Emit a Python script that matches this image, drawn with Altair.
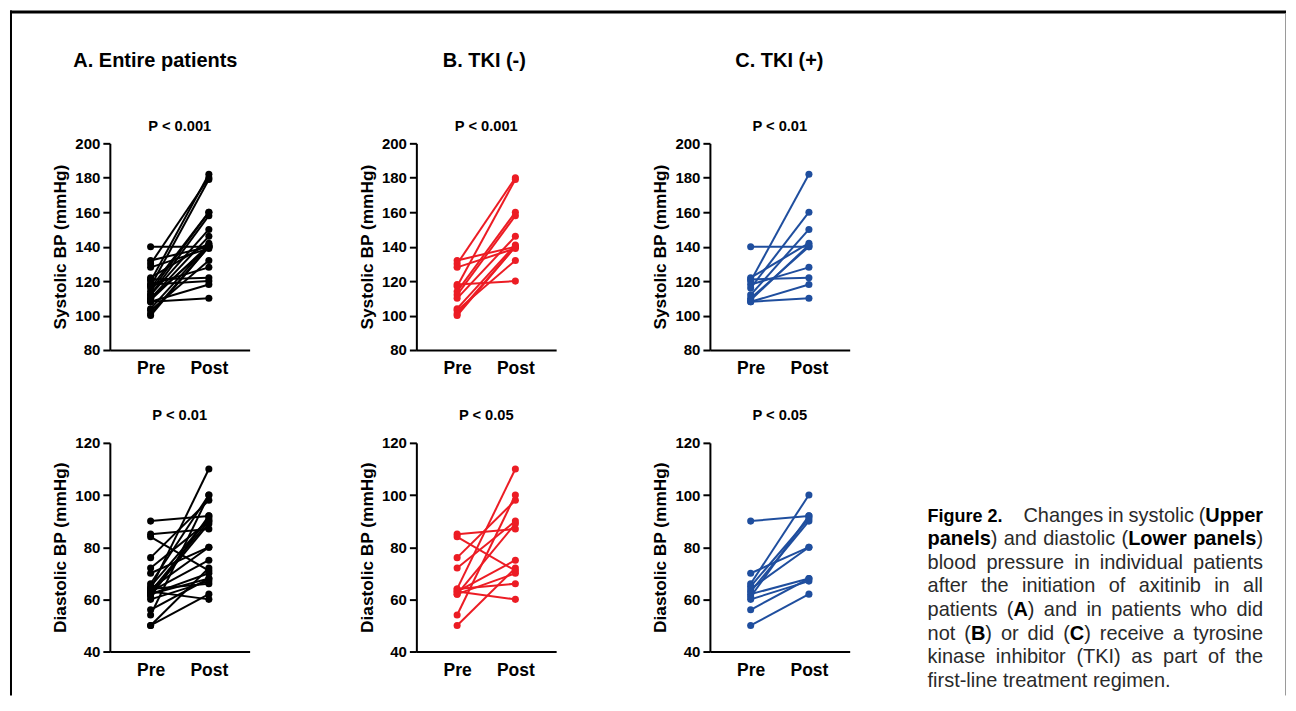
import altair as alt
import pandas as pd

# ---------------- data ----------------
phases = ["Pre", "Post"]

# B. TKI (-)
b_sys_pre = [132, 130, 128, 118, 117, 114, 112, 110, 104, 103, 101, 100]
b_sys_post = [140, 180, 139, 120, 179, 160, 158, 146, 141, 132, 140, 140]
b_dia_pre = [85, 84, 76, 72, 64, 64, 63, 63, 62, 62, 54, 50]
b_dia_post = [87, 71, 98, 90, 110, 66, 60, 75, 89, 70, 100, 72]

# C. TKI (+)
c_sys_pre = [140, 122, 121, 120, 118, 116, 112, 110, 109, 108, 108]
c_sys_post = [140, 142, 122, 182, 128, 160, 150, 140, 141, 118, 110]
c_dia_pre = [90, 70, 66, 65, 64, 63, 62, 61, 60, 56, 50]
c_dia_post = [92, 80, 100, 91, 80, 90, 68, 92, 67, 68, 62]

# A. Entire patients = B + C
a_sys_pre = b_sys_pre + c_sys_pre
a_sys_post = b_sys_post + c_sys_post
a_dia_pre = b_dia_pre + c_dia_pre
a_dia_post = b_dia_post + c_dia_post

col_titles = ["A. Entire patients", "B. TKI (-)", "C. TKI (+)"]
sys_pvals = ["P < 0.001", "P < 0.001", "P < 0.01"]
dia_pvals = ["P < 0.01", "P < 0.05", "P < 0.05"]
group_colors = ["#000000", "#EC1C24", "#1F4E9E"]
sys_ticks = [80, 100, 120, 140, 160, 180, 200]
dia_ticks = [40, 60, 80, 100, 120]
sys_title = "Systolic BP (mmHg)"
dia_title = "Diastolic BP (mmHg)"

caption_fig = "Figure 2."
caption_lines = [
    "Changes in systolic (**Upper**",
    "**panels**) and diastolic (**Lower** **panels**)",
    "blood pressure in individual patients",
    "after the initiation of axitinib in all",
    "patients (**A**) and in patients who did",
    "not (**B**) or did (**C**) receive a tyrosine",
    "kinase inhibitor (TKI) as part of the",
    "first-line treatment regimen.",
]

# ---------------- layout / style ----------------
FONT = "Liberation Sans, Arial, Helvetica, sans-serif"
PW = 140
TOP_H = 207
BOT_H = 209
TOTAL_W = 1278
BAND_H = 133
LEFT_W = 40
LEFT_H = 500
CAP_W = 434
CAP_H = 550


def long_df(pre, post):
    pid, phase, bp = [], [], []
    for i, (a, b) in enumerate(zip(pre, post)):
        pid += [i, i]
        phase += ["Pre", "Post"]
        bp += [a, b]
    return pd.DataFrame({"pid": pid, "phase": phase, "bp": bp})


def panel(pre, post, color, ptitle, ytitle, domain, ticks, h, toff):
    df = long_df(pre, post)
    base = alt.Chart(df).encode(
        x=alt.X("phase:N", sort=phases,
                scale=alt.Scale(type="point", padding=0.7),
                axis=alt.Axis(title=None, labelAngle=0, ticks=False,
                              labelPadding=10, labelFontSize=17.5)),
        y=alt.Y("bp:Q", scale=alt.Scale(domain=domain, nice=False, zero=False),
                axis=alt.Axis(values=ticks, title=ytitle, tickSize=7,
                              labelFontSize=15, labelPadding=3,
                              titleFontSize=17.3, titlePadding=5,
                              labelOverlap=False)),
        detail="pid:N",
    )
    lines = base.mark_line(color=color, strokeWidth=2)
    pts = base.mark_circle(color=color, size=50, opacity=1)
    return alt.layer(lines, pts).properties(
        width=PW, height=h,
        title=alt.TitleParams(ptitle, fontSize=14.7, fontWeight="bold", font=FONT,
                              color="black", anchor="middle", frame="group",
                              offset=toff, baseline="alphabetic"))


data_sets = [
    (a_sys_pre, a_sys_post, a_dia_pre, a_dia_post),
    (b_sys_pre, b_sys_post, b_dia_pre, b_dia_post),
    (c_sys_pre, c_sys_post, c_dia_pre, c_dia_post),
]
col_dx = [22, 85, 84]

cols = []
for k in range(3):
    sp, so, dp, do = data_sets[k]
    top = panel(sp, so, group_colors[k], sys_pvals[k], sys_title, [80, 200], sys_ticks, TOP_H, -9.6)
    bot = panel(dp, do, group_colors[k], dia_pvals[k], dia_title, [40, 120], dia_ticks, BOT_H, 0.8)
    cols.append(alt.vconcat(
        top, bot, spacing=30,
        title=alt.TitleParams(col_titles[k], anchor="start", dx=col_dx[k], offset=32,
                              fontSize=20, fontWeight="bold", font=FONT,
                              color="black", baseline="alphabetic")))

panels = alt.hconcat(alt.hconcat(cols[0], cols[1], spacing=107), cols[2], spacing=94)

# ---------------- caption (justified text, measured with Arial metrics) ----------------
REG = {' ': 278, '(': 333, ')': 333, '-': 333, '.': 278, 'a': 556, 'b': 556, 'c': 500,
       'd': 556, 'e': 556, 'f': 278, 'g': 556, 'h': 556, 'i': 222, 'k': 500, 'l': 222,
       'm': 833, 'n': 556, 'o': 556, 'p': 556, 'r': 333, 's': 500, 't': 278, 'u': 556,
       'v': 500, 'w': 722, 'x': 500, 'y': 500, 'C': 722, 'I': 278, 'K': 667, 'T': 611}
BLD = {' ': 278, 'A': 722, 'B': 722, 'C': 722, 'L': 611, 'U': 722, 'a': 556, 'e': 556,
       'l': 278, 'n': 611, 'o': 611, 'p': 611, 'r': 389, 's': 556, 'w': 778}
CAP_FS = 20
X0, X1, X_FIRST = 76, 412, 172
BASE0, PITCH = 379, 23.6


def seg_w(txt, bold):
    t = BLD if bold else REG
    return sum(t.get(ch, 556) for ch in txt) * CAP_FS / 1000.0


cx, cy, ctext, cstyle = [X0], [BASE0], [caption_fig], ["fig"]
for li, line in enumerate(caption_lines):
    words = []
    for w in line.split(" "):
        parts = w.split("**")
        segs = [(p, j % 2 == 1) for j, p in enumerate(parts) if p]
        words.append(segs)
    widths = [sum(seg_w(t, b) for t, b in segs) for segs in words]
    start = X_FIRST if li == 0 else X0
    if li < len(caption_lines) - 1 and len(words) > 1:
        gap = (X1 - start - sum(widths)) / (len(words) - 1)
    else:
        gap = REG[' '] * CAP_FS / 1000.0
    x = start
    y = BASE0 + PITCH * li
    for segs, wd in zip(words, widths):
        xx = x
        for t, b in segs:
            cx.append(xx)
            cy.append(y)
            ctext.append(t)
            cstyle.append("bold" if b else "reg")
            xx += seg_w(t, b)
        x += wd + gap

cap_df = pd.DataFrame({"x": cx, "y": cy, "text": ctext, "style": cstyle})
cap_base = alt.Chart(cap_df).encode(
    x=alt.X("x:Q", scale=alt.Scale(domain=[0, CAP_W], nice=False, zero=False), axis=None),
    y=alt.Y("y:Q", scale=alt.Scale(domain=[0, CAP_H], nice=False, zero=False, reverse=True), axis=None),
    text="text:N",
)
cap_reg = cap_base.transform_filter(alt.datum.style == "reg").mark_text(
    align="left", baseline="alphabetic", font=FONT, fontSize=CAP_FS, color="#2a2a2a")
cap_bold = cap_base.transform_filter(alt.datum.style == "bold").mark_text(
    align="left", baseline="alphabetic", font=FONT, fontSize=CAP_FS, fontWeight="bold", color="black")
cap_fig = cap_base.transform_filter(alt.datum.style == "fig").mark_text(
    align="left", baseline="alphabetic", font=FONT, fontSize=18, fontWeight="bold", color="black")
caption = alt.layer(cap_reg, cap_bold, cap_fig).properties(width=CAP_W, height=CAP_H)

# ---------------- frame lines ----------------
one = pd.DataFrame({"a": [0]})
band = alt.layer(
    alt.Chart(one).mark_rule(color="black", strokeWidth=3).encode(
        x=alt.value(0), x2=alt.value(TOTAL_W), y=alt.value(1.5)),
    alt.Chart(one).mark_rule(color="black", strokeWidth=2).encode(
        x=alt.value(1), y=alt.value(0), y2=alt.value(686)),
    alt.Chart(one).mark_rule(color="#9a9a9a", strokeWidth=1).encode(
        x=alt.value(TOTAL_W - 0.5), y=alt.value(3), y2=alt.value(686)),
).properties(width=TOTAL_W, height=BAND_H)

spacer = alt.Chart(one).mark_rule(strokeOpacity=0).encode(
    x=alt.value(1), y=alt.value(0), y2=alt.value(LEFT_H)).properties(width=LEFT_W, height=LEFT_H)

row = alt.hconcat(spacer, panels, caption, spacing=0)

chart = alt.vconcat(band, row, spacing=0, bounds="flush").properties(
    padding=0, background="white"
).configure_view(
    stroke="transparent"
).configure_axis(
    grid=False, domainColor="black", domainWidth=2, tickColor="black", tickWidth=2,
    labelFont=FONT, labelFontWeight="bold", labelColor="black",
    titleFont=FONT, titleFontWeight="bold", titleColor="black",
)

chart.save("out.html", embed_options={"renderer": "svg", "actions": False})
